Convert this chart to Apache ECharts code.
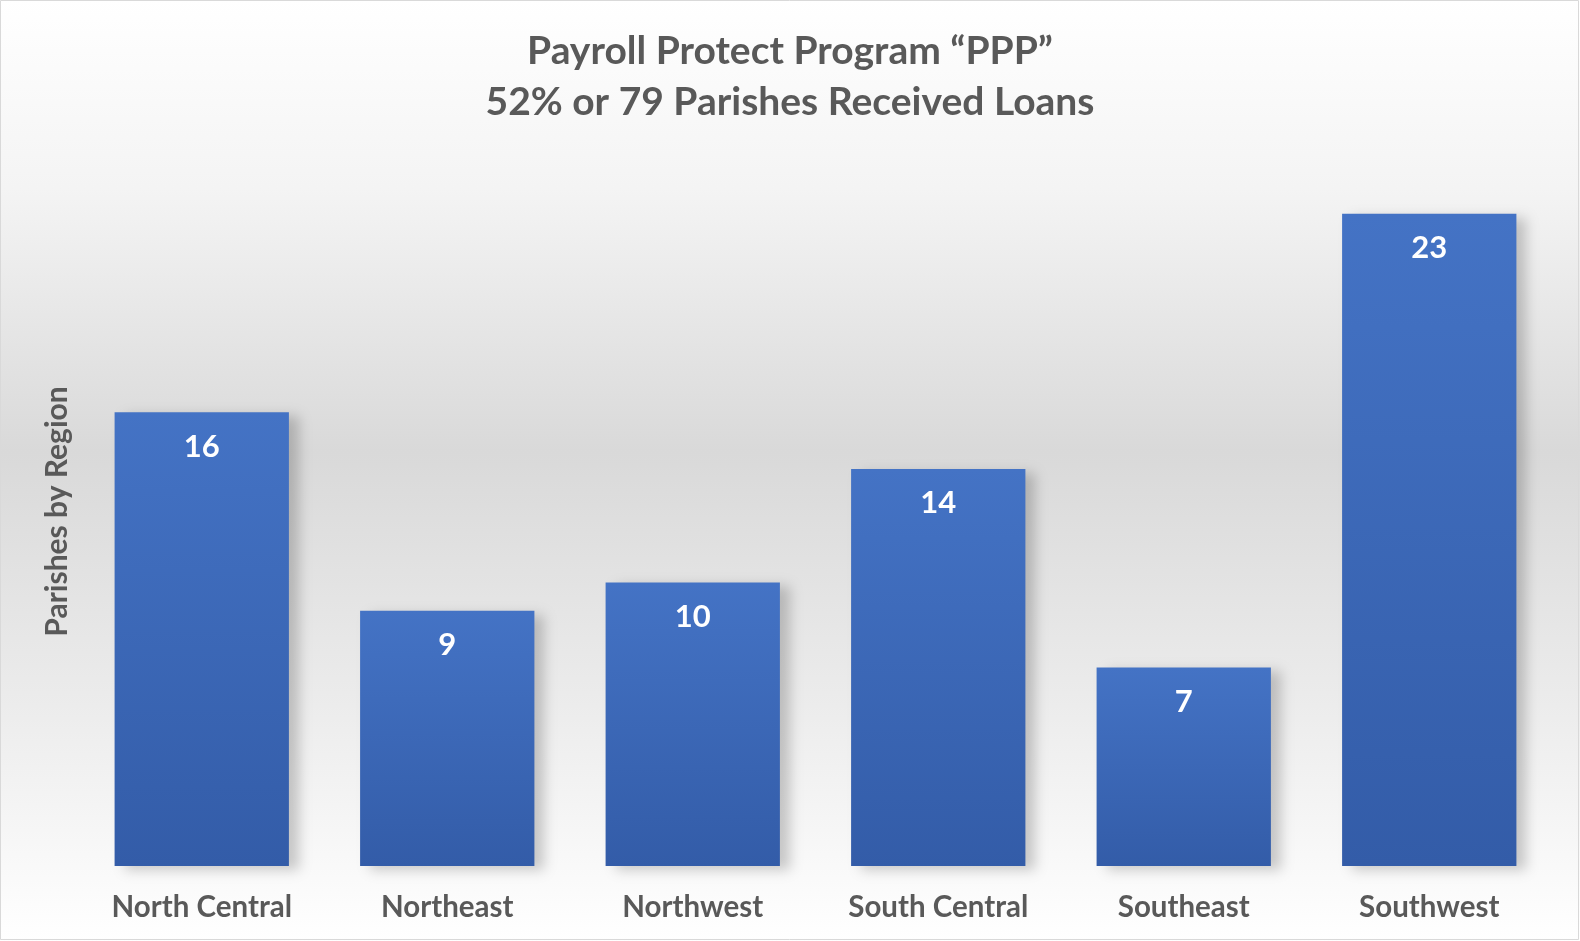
<!DOCTYPE html>
<html style="height: 100%">
<head>
    <meta charset="utf-8">
</head>
<body style="height: 100%; margin: 0">
<div id="container" style="height: 100%"></div>
<script type="text/javascript" src="https://cdn.jsdelivr.net/npm/echarts@6/dist/echarts.min.js"></script>
<script type="text/javascript">
    var regions = ['North Central', 'Northeast', 'Northwest', 'South Central', 'Southeast', 'Southwest'];
    var parishes = [16, 9, 10, 14, 7, 23];
    var titleLines = ['Payroll Protect Program \u201CPPP\u201D', '52% or 79 Parishes Received Loans'];
    var yName = 'Parishes by Region';

    var dom = document.getElementById("container");
    var myChart = echarts.init(dom);
    var textGray = '#595959';
    var font = 'Lato, "Open Sans", sans-serif';

    var option = {
        animation: false,
        backgroundColor: new echarts.graphic.LinearGradient(0, 0, 0, 1, [
            {offset: 0, color: '#ffffff'},
            {offset: 0.2, color: '#f4f4f4'},
            {offset: 0.48, color: '#d9d9d9'},
            {offset: 0.75, color: '#ececec'},
            {offset: 1, color: '#ffffff'}
        ]),
        graphic: [{
            type: 'rect',
            shape: {x: 0.5, y: 0.5, width: 1578, height: 939},
            style: {fill: 'none', stroke: '#d9d9d9', lineWidth: 1},
            silent: true
        }],
        title: {
            text: titleLines.join('\n'),
            left: 'center',
            top: 21,
            textStyle: {
                color: textGray,
                fontFamily: font,
                fontWeight: 'bold',
                fontSize: 39,
                lineHeight: 51
            }
        },
        grid: {
            left: 79,
            right: 28,
            top: 157,
            bottom: 75
        },
        xAxis: {
            type: 'category',
            data: regions,
            axisLine: {show: false},
            axisTick: {show: false},
            axisLabel: {
                color: textGray,
                fontFamily: font,
                fontWeight: 'bold',
                fontSize: 29.5,
                margin: 26
            }
        },
        yAxis: {
            type: 'value',
            min: 0,
            max: 25,
            name: yName,
            nameLocation: 'middle',
            nameGap: 7,
            nameTextStyle: {
                color: textGray,
                fontFamily: font,
                fontWeight: 'bold',
                fontSize: 30
            },
            axisLine: {show: false},
            axisTick: {show: false},
            axisLabel: {show: false},
            splitLine: {show: false}
        },
        series: [{
            name: yName,
            type: 'bar',
            data: parishes,
            barWidth: '71%',
            itemStyle: {
                color: new echarts.graphic.LinearGradient(0, 0, 0, 1, [
                    {offset: 0, color: '#4473c5'},
                    {offset: 1, color: '#335ca8'}
                ]),
                shadowColor: 'rgba(0,0,0,0.2)',
                shadowBlur: 12,
                shadowOffsetX: 10,
                shadowOffsetY: 4
            },
            label: {
                show: true,
                position: 'insideTop',
                distance: 19,
                color: '#ffffff',
                fontFamily: font,
                fontWeight: 'bold',
                fontSize: 31
            }
        }]
    };
    myChart.setOption(option);
</script>
</body>
</html>
